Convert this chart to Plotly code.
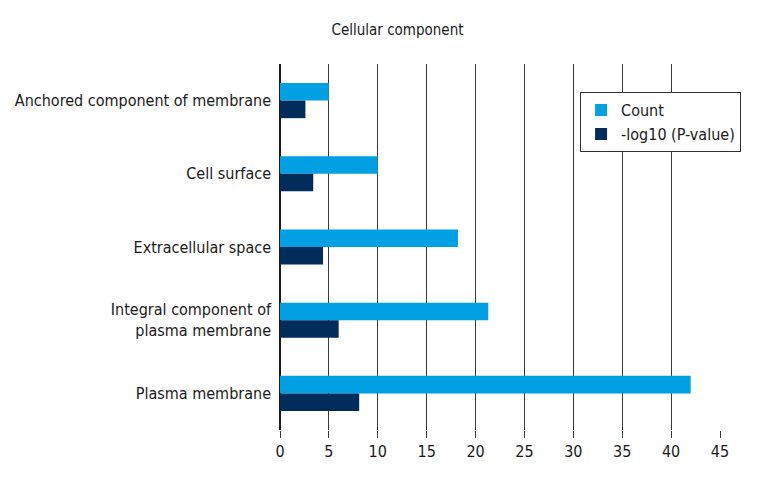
import plotly.graph_objects as go

categories = ["Anchored component of membrane", "Cell surface", "Extracellular space",
              "Integral component of<br>plasma membrane", "Plasma membrane"]
count = [5, 10, 18.2, 21.3, 42]
neg_log_p = [2.6, 3.4, 4.4, 6.0, 8.1]
x_ticks = [0, 5, 10, 15, 20, 25, 30, 35, 40, 45]

FONT = "Liberation Sans Narrow, DejaVu Sans Condensed, Arial Narrow, sans-serif"

fig = go.Figure()
fig.add_trace(go.Bar(
    y=categories, x=count, orientation='h', name='Count',
    marker=dict(color='#00a0e3', line=dict(width=0))
))
fig.add_trace(go.Bar(
    y=categories, x=neg_log_p, orientation='h', name='-log10 (P-value)',
    marker=dict(color='#012d5a', line=dict(width=0))
))

# page body has an 8px margin, so the figure is a little smaller than the window
fig.update_layout(
    width=752, height=472,
    barmode='group', bargap=0.52, bargroupgap=0,
    plot_bgcolor='white', paper_bgcolor='white',
    font=dict(family=FONT, size=15, color='#1a1a1a'),
    title=dict(text='Cellular component', x=0.518, xanchor='center', y=0.953, yanchor='middle',
               font=dict(family=FONT, size=15, color='#1a1a1a')),
    margin=dict(l=272, r=40, t=56, b=50),
    xaxis=dict(range=[0, 45], tickvals=x_ticks, showgrid=True, gridcolor='#3a3a3a', gridwidth=1.3,
               zeroline=True, zerolinecolor='#1a1a1a', zerolinewidth=1.5,
               ticks='outside', ticklen=7, tickcolor='#3a3a3a', tickwidth=1.3,
               tickfont=dict(size=16), showline=False, automargin=False),
    yaxis=dict(autorange='reversed', showgrid=False, ticks='', ticklabelstandoff=8,
               tickfont=dict(size=16), showline=False, automargin=False),
    legend=dict(x=0.682, y=0.923, xanchor='left', yanchor='top', traceorder='normal',
                bgcolor='white', bordercolor='#333333', borderwidth=1,
                font=dict(size=16), tracegroupgap=2),
    showlegend=True
)

fig.write_html("out.html")
